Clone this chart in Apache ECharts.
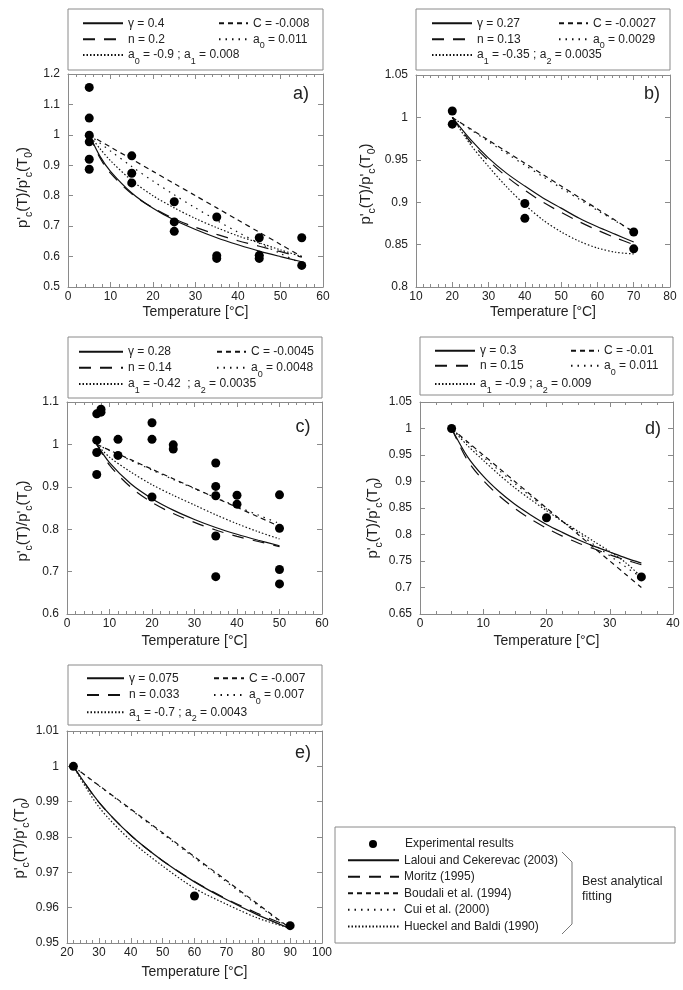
<!DOCTYPE html>
<html><head><meta charset="utf-8">
<script src="https://cdn.jsdelivr.net/npm/echarts@6/dist/echarts.min.js"></script>
<style>html,body{margin:0;padding:0;background:#fff}#c{width:683px;height:990px}</style>
</head><body><div id="c"></div>
<script>
// ---------------- DATA ----------------
const modelNames = ['Laloui and Cekerevac (2003)', 'Moritz (1995)', 'Boudali et al. (1994)', 'Cui et al. (2000)', 'Hueckel and Baldi (1990)'];
const expName = 'Experimental results';
const panelTags = ['a)', 'b)', 'c)', 'd)', 'e)'];

// panel a
const aT = [5, 7.5, 10, 15, 20, 25, 30, 35, 40, 45, 50, 55];
const aExp = [[5,1.156],[5,1.055],[5,0.999],[5,0.977],[5,0.92],[5,0.887],[15,0.931],[15,0.874],[15,0.842],[25,0.78],[25,0.714],[25,0.683],[35,0.73],[35,0.603],[35,0.594],[45,0.662],[45,0.604],[45,0.594],[55,0.662],[55,0.571]];
const aLaloui  = [1,0.930,0.880,0.809,0.759,0.720,0.689,0.662,0.639,0.618,0.600,0.583];
const aMoritz  = [1,0.925,0.874,0.806,0.760,0.724,0.696,0.673,0.652,0.634,0.616,0.598];
const aBoudali = [1,0.980,0.960,0.920,0.880,0.840,0.800,0.760,0.720,0.680,0.640,0.600];
const aCui     = [1,0.973,0.947,0.896,0.848,0.803,0.760,0.719,0.680,0.644,0.610,0.577];
const aHueckel = [1,0.955,0.915,0.850,0.800,0.760,0.725,0.695,0.668,0.645,0.622,0.600];
const aParams  = ['γ = 0.4', 'n = 0.2', 'C = -0.008', 'a{s|0} = 0.011', 'a{s|0} = -0.9 ; a{s|1} = 0.008'];

// panel b
const bT = [20, 25, 30, 35, 40, 45, 50, 55, 60, 65, 70];
const bExp = [[20,1.0076],[20,0.992],[40,0.8985],[40,0.881],[70,0.8648],[70,0.845]];
const bLaloui  = [1,0.974,0.952,0.934,0.919,0.905,0.893,0.881,0.871,0.862,0.853];
const bMoritz  = [1,0.971,0.949,0.930,0.914,0.900,0.888,0.877,0.867,0.858,0.850];
const bBoudali = [1,0.9865,0.973,0.9595,0.946,0.9325,0.919,0.9055,0.892,0.8785,0.865];
const bCui     = [1,0.9856,0.9714,0.9574,0.9436,0.930,0.9167,0.9035,0.8904,0.8776,0.865];
const bHueckel = [1,0.968,0.942,0.918,0.897,0.879,0.865,0.854,0.846,0.841,0.839];
const bParams  = ['γ = 0.27', 'n = 0.13', 'C = -0.0027', 'a{s|0} = 0.0029', 'a{s|1} = -0.35 ; a{s|2} = 0.0035'];

// panel c
const cT = [7, 10, 15, 20, 25, 30, 35, 40, 45, 50];
const cExp = [[7,1.072],[8,1.083],[8,1.076],[7,1.010],[7,0.981],[7,0.929],[12,1.012],[12,0.974],[20,1.051],[20,1.012],[20,0.876],[25,0.999],[25,0.989],[35,0.956],[35,0.901],[35,0.879],[35,0.784],[35,0.688],[40,0.880],[40,0.859],[50,0.881],[50,0.802],[50,0.705],[50,0.671]];
const cLaloui  = [1,0.957,0.907,0.872,0.845,0.823,0.804,0.788,0.774,0.761];
const cMoritz  = [1,0.951,0.899,0.863,0.837,0.816,0.798,0.783,0.771,0.759];
const cBoudali = [1,0.9865,0.964,0.9415,0.919,0.8965,0.874,0.8515,0.829,0.8065];
const cCui     = [1,0.9857,0.9623,0.9395,0.9173,0.8956,0.8743,0.8536,0.8334,0.8136];
const cHueckel = [1,0.970,0.935,0.905,0.880,0.857,0.834,0.813,0.794,0.777];
const cParams  = ['γ = 0.28', 'n = 0.14', 'C = -0.0045', 'a{s|0} = 0.0048', 'a{s|1} = -0.42  ; a{s|2} = 0.0035'];

// panel d
const dT = [5, 7.5, 10, 12.5, 15, 17.5, 20, 22.5, 25, 27.5, 30, 32.5, 35];
const dExp = [[5,1.0],[20,0.8315],[35,0.72]];
const dLaloui  = [1,0.947,0.910,0.881,0.857,0.837,0.819,0.804,0.790,0.778,0.767,0.756,0.746];
const dMoritz  = [1,0.940,0.902,0.873,0.849,0.829,0.812,0.797,0.784,0.773,0.762,0.752,0.743];
const dBoudali = [1,0.975,0.950,0.925,0.900,0.875,0.850,0.825,0.800,0.775,0.750,0.725,0.700];
const dCui     = [1,0.973,0.946,0.921,0.896,0.872,0.848,0.825,0.803,0.781,0.760,0.739,0.719];
const dHueckel = [1,0.968,0.940,0.913,0.888,0.866,0.845,0.825,0.806,0.787,0.768,0.747,0.720];
const dParams  = ['γ = 0.3', 'n = 0.15', 'C = -0.01', 'a{s|0} = 0.011', 'a{s|1} = -0.9 ; a{s|2} = 0.009'];

// panel e
const eT = [22, 30, 40, 50, 60, 70, 80, 90];
const eExp = [[22,1.0],[60,0.9633],[90,0.9549]];
const eLaloui  = [1,0.9899,0.9805,0.9733,0.9673,0.9623,0.9579,0.9541];
const eMoritz  = [1,0.9898,0.9805,0.9733,0.9674,0.9625,0.9583,0.9546];
const eBoudali = [1,0.9946,0.9879,0.9812,0.9744,0.9677,0.9609,0.9542];
const eCui     = [1,0.9945,0.9877,0.9809,0.9741,0.9673,0.9606,0.9540];
const eHueckel = [1,0.9885,0.9790,0.9718,0.9655,0.9610,0.9570,0.9542];
const eParams  = ['γ = 0.075', 'n = 0.033', 'C = -0.007', 'a{s|0} = 0.007', 'a{s|1} = -0.7 ; a{s|2} = 0.0043'];

// axis ranges
const xRanges = [[0,60,10],[10,80,10],[0,60,10],[0,40,10],[20,100,10]];
const yRanges = [[0.5,1.2,0.1],[0.8,1.05,0.05],[0.6,1.1,0.1],[0.65,1.05,0.05],[0.95,1.01,0.01]];

// ---------------- BUILD ----------------
const panels = [
  {T:aT, exp:aExp, curves:[aLaloui,aMoritz,aBoudali,aCui,aHueckel], params:aParams},
  {T:bT, exp:bExp, curves:[bLaloui,bMoritz,bBoudali,bCui,bHueckel], params:bParams},
  {T:cT, exp:cExp, curves:[cLaloui,cMoritz,cBoudali,cCui,cHueckel], params:cParams},
  {T:dT, exp:dExp, curves:[dLaloui,dMoritz,dBoudali,dCui,dHueckel], params:dParams},
  {T:eT, exp:eExp, curves:[eLaloui,eMoritz,eBoudali,eCui,eHueckel], params:eParams}
];

const FONT = '"Liberation Sans", Arial, sans-serif';
const AX = '#8a8a8a';
const TX = '#222';
const LC = '#111';
const dashes = ['solid', [12, 9], [5, 4], [1.5, 5], [1.5, 2]];

const grids = [
  {left:68, top:74, width:255, height:213},
  {left:416, top:75, width:254, height:212},
  {left:67, top:402, width:255, height:212},
  {left:420, top:402, width:253, height:212},
  {left:67, top:731, width:255, height:212}
];
const minorSplit = [5, 5, 5, 4, 5];
const yNameGap = [33, 38, 32, 32, 32];
const yNameShift = [14, 6, 26, 20, 2];
const xNameGap = [18, 18, 20, 20, 22];

const xAxis = [], yAxis = [], series = [], legend = [], graphic = [];
const labelMap = {};

const yTitle = "p'{s|c}(T)/p'{s|c}(T{s|0})";

panels.forEach((p, i) => {
  const [x0, x1, xi] = xRanges[i];
  const [y0, y1, yi] = yRanges[i];
  const common = {gridIndex:i, min:x0, max:x1, interval:xi, splitLine:{show:false},
    axisLine:{show:true, onZero:false, lineStyle:{color:AX, width:1}},
    axisTick:{show:true, inside:true, length:5, lineStyle:{color:AX}},
    minorTick:{show:true, splitNumber:minorSplit[i], length:3, lineStyle:{color:AX}}};
  xAxis.push(Object.assign({}, common, {type:'value', position:'bottom',
    axisLabel:{fontSize:12, color:TX, fontFamily:FONT, margin:4},
    name:'Temperature [°C]', nameLocation:'middle', nameGap:xNameGap[i],
    nameTextStyle:{fontSize:14, color:TX, fontFamily:FONT}}));
  xAxis.push(Object.assign({}, common, {type:'value', position:'top', axisLabel:{show:false}}));
  const ycommon = {gridIndex:i, min:y0, max:y1, interval:yi, splitLine:{show:false},
    axisLine:{show:true, onZero:false, lineStyle:{color:AX, width:1}},
    axisTick:{show:true, inside:true, length:5, lineStyle:{color:AX}}};
  yAxis.push(Object.assign({}, ycommon, {type:'value', position:'left',
    axisLabel:{fontSize:12, color:TX, fontFamily:FONT, margin:8},
    name:yTitle, nameLocation:'middle', nameRotate:90, nameGap:yNameGap[i],
    nameTextStyle:{fontSize:15, color:TX, fontFamily:FONT, lineHeight:24, padding:[0,yNameShift[i],0,0],
      rich:{s:{fontSize:10.5, lineHeight:24, verticalAlign:'bottom', color:TX, fontFamily:FONT}}}}));
  yAxis.push(Object.assign({}, ycommon, {type:'value', position:'right', axisLabel:{show:false}}));

  // curves
  p.curves.forEach((vals, k) => {
    const nm = 'p' + i + ':' + k;
    labelMap[nm] = p.params[k];
    series.push({type:'line', name:nm, xAxisIndex:2*i, yAxisIndex:2*i,
      data:p.T.map((t, j) => [t, vals[j]]), showSymbol:false, symbol:'none',
      smooth:0.3, itemStyle:{color:LC, opacity:0},
      lineStyle:{color:LC, width:1.2, type:dashes[k]}, z:2});
  });
  series.push({type:'scatter', name:expName, xAxisIndex:2*i, yAxisIndex:2*i,
    data:p.exp, symbol:'circle', symbolSize:9, itemStyle:{color:'#000', opacity:1}, z:5});
});

// dummy model series for the global legend
modelNames.forEach((m, k) => {
  series.push({type:'line', name:m, xAxisIndex:8, yAxisIndex:8, data:[], symbol:'none',
    itemStyle:{color:LC, opacity:0}, lineStyle:{color:LC, width:1.2, type:dashes[k]}});
});

// panel legends: positions [rows centers], col1 x/w, col2 x/w
const legPos = [
  {rows:[23.3,39.3,55], c1:[82,40], c2:[218,29], box:[68,9,255,61]},
  {rows:[23.3,39.3,55], c1:[431,40], c2:[558,29], box:[416,9,254,61]},
  {rows:[351.7,367.7,384], c1:[78,44], c2:[216,29], box:[68,337,254,61]},
  {rows:[350.7,365.7,384], c1:[434,40], c2:[570,28], box:[420,337,253,58]},
  {rows:[678.3,695,712.3], c1:[86,37], c2:[213,30], box:[68,665,254,60]}
];
const slot = [[0,0],[1,0],[0,1],[1,1],[2,0]]; // [row, col] per model
const legText = {fontSize:12, color:TX, fontFamily:FONT, lineHeight:22,
  rich:{s:{fontSize:9, lineHeight:22, verticalAlign:'bottom', color:TX, fontFamily:FONT}}};

legPos.forEach((L, i) => {
  for (let k = 0; k < 5; k++) {
    const [r, c] = slot[k];
    const col = c === 0 ? L.c1 : L.c2;
    legend.push({data:['p' + i + ':' + k], left:col[0], top:L.rows[r] - 11, padding:0,
      itemWidth:col[1], itemHeight:8, selectedMode:false,
      formatter:(n) => labelMap[n], textStyle:legText});
  }
  graphic.push({type:'rect', shape:{x:L.box[0], y:L.box[1], width:L.box[2], height:L.box[3]},
    style:{fill:'none', stroke:AX, lineWidth:1}, silent:true});
});

// global legend
const gRows = [844, 860.3, 876.8, 893.2, 909.7, 926.5];
const gText = {fontSize:12, color:TX, fontFamily:FONT, lineHeight:16};
legend.push({data:[expName], left:369, top:gRows[0] - 8, padding:0, itemWidth:8, itemHeight:8,
  selectedMode:false, textStyle:Object.assign({}, gText, {padding:[0,0,0,23]})});
modelNames.forEach((m, k) => {
  legend.push({data:[m], left:347, top:gRows[k + 1] - 8, padding:0, itemWidth:51, itemHeight:8,
    selectedMode:false, textStyle:gText});
});
graphic.push({type:'rect', shape:{x:335, y:827, width:340, height:116},
  style:{fill:'none', stroke:AX, lineWidth:1}, silent:true});
graphic.push({type:'polyline', shape:{points:[[562,852],[572,862],[572,924],[562,934]]},
  style:{fill:'none', stroke:'#777', lineWidth:1}, silent:true});
graphic.push({type:'text', x:582, y:874, style:{text:'Best analytical\nfitting', fontSize:12.5,
  lineHeight:15, fill:TX, font:'12.5px ' + FONT}, silent:true});

// panel tags
const tagPos = [[301,94],[652,94],[303,427],[653,429],[303,753]];
panelTags.forEach((t, i) => {
  graphic.push({type:'text', x:tagPos[i][0], y:tagPos[i][1], style:{text:t, fill:TX,
    font:'18px ' + FONT, textAlign:'center', textVerticalAlign:'middle'}, silent:true});
});

const chart = echarts.init(document.getElementById('c'), null, {renderer:'canvas'});
chart.setOption({
  animation:false,
  backgroundColor:'#fff',
  textStyle:{fontFamily:FONT},
  grid:grids,
  xAxis, yAxis, series, legend, graphic
});
</script>
</body></html>
